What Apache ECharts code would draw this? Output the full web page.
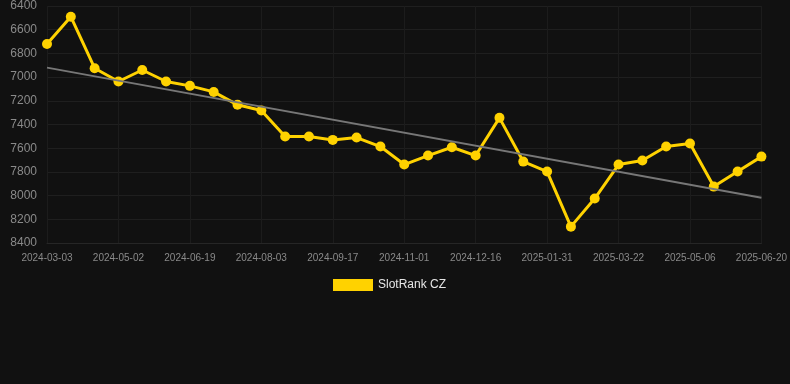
<!DOCTYPE html>
<html><head><meta charset="utf-8">
<script src="https://cdn.jsdelivr.net/npm/echarts@6/dist/echarts.min.js"></script>
<style>html,body{margin:0;padding:0;background:#111111;}#c{width:790px;height:384px;}</style>
</head><body><div id="c"></div>
<script>
var categories = ['2024-03-03','2024-03-23','2024-04-12','2024-05-02','2024-05-18','2024-06-03','2024-06-19','2024-07-04','2024-07-19','2024-08-03','2024-08-18','2024-09-02','2024-09-17','2024-10-02','2024-10-17','2024-11-01','2024-11-16','2024-12-01','2024-12-16','2024-12-31','2025-01-15','2025-01-31','2025-02-16','2025-03-06','2025-03-22','2025-04-06','2025-04-21','2025-05-06','2025-05-21','2025-06-05','2025-06-20'];
var rankValues = [6720,6490,6925,7037,6940,7037,7074,7125,7234,7282,7502,7502,7530,7510,7586,7738,7662,7592,7662,7344,7713,7797,8262,8025,7738,7704,7586,7561,7924,7797,7671];
var trendEnds = [6920,8018];
var yTicks = {min:6400, max:8400, interval:200};

var chart = echarts.init(document.getElementById('c'));
chart.setOption({
  backgroundColor:'#111111',
  animation:false,
  grid:{left:47,right:28,top:6,bottom:141},
  legend:{
    bottom:88, left:328,
    itemWidth:40, itemHeight:12,
    icon:'rect',
    textStyle:{color:'#e6e6e6', fontSize:12, fontFamily:'Arial, Liberation Sans, sans-serif'},
    data:['SlotRank CZ']
  },
  xAxis:{
    type:'category', data:categories, boundaryGap:false,
    axisLine:{show:true, lineStyle:{color:'#262626'}},
    axisTick:{show:false},
    axisLabel:{color:'#8a8a8a', fontSize:10, interval:2, margin:10, fontFamily:'Arial, Liberation Sans, sans-serif'},
    splitLine:{show:true, interval:2, lineStyle:{color:'#1c1c1c'}}
  },
  yAxis:{
    type:'value', inverse:true, min:yTicks.min, max:yTicks.max, interval:yTicks.interval,
    axisLine:{show:false}, axisTick:{show:false},
    axisLabel:{color:'#8a8a8a', fontSize:12, margin:10, fontFamily:'Arial, Liberation Sans, sans-serif',
      formatter:function(v){return String(v);}},
    splitLine:{lineStyle:{color:'#1f1f1f'}}
  },
  series:[{
    name:'SlotRank CZ', type:'line', data:rankValues,
    color:'#FFD200',
    lineStyle:{width:3, color:'#FFD200'},
    itemStyle:{color:'#FFD200'},
    symbol:'circle', symbolSize:10,
    markLine:{
      silent:true, symbol:'none', label:{show:false},
      lineStyle:{color:'#777777', width:2, type:'solid'},
      data:[[{coord:[0,trendEnds[0]]},{coord:[categories.length-1,trendEnds[1]]}]]
    }
  }]
});
</script></body></html>
